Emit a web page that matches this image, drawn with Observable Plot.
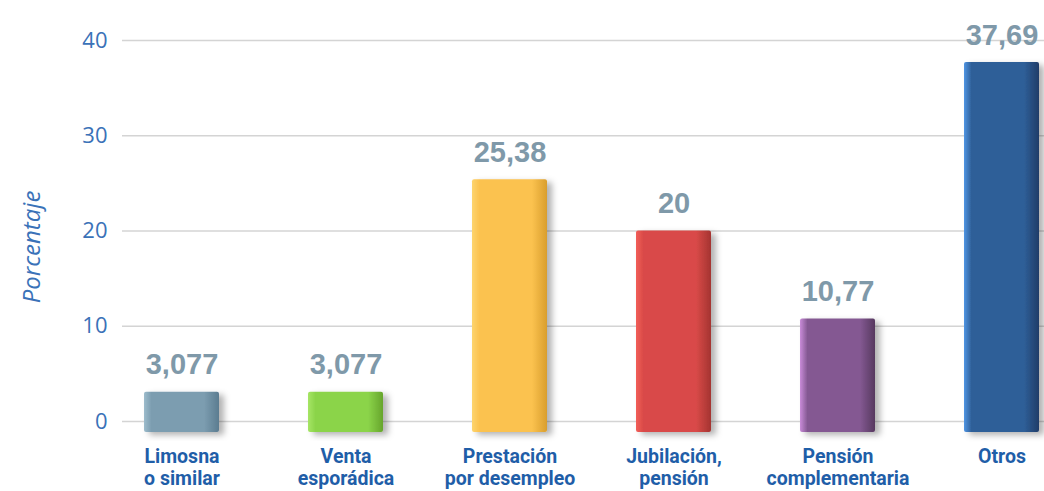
<!DOCTYPE html>
<html>
<head>
<meta charset="utf-8">
<script src="https://cdn.jsdelivr.net/npm/d3@7"></script>
<script src="https://cdn.jsdelivr.net/npm/@observablehq/plot@0.6"></script>
<style>
  html, body { margin: 0; padding: 0; background: #ffffff; }
  svg { display: block; }
</style>
</head>
<body>
<div id="chart"></div>
<script>
// ---- Data ----
const categories = [
  "Limosna\no similar",
  "Venta\nesporádica",
  "Prestación\npor desempleo",
  "Jubilación,\npensión",
  "Pensión\ncomplementaria",
  "Otros"
];
const values = [3.077, 3.077, 25.38, 20, 10.77, 37.69];
const valueLabels = ["3,077", "3,077", "25,38", "20", "10,77", "37,69"];
const yTicks = [0, 10, 20, 30, 40];
const yTitle = "Porcentaje";

// ---- Styles (light edge, body, dark edge) ----
const palette = [
  ["#9dbccc", "#7c9db0", "#5b7c90"],
  ["#a6e565", "#8bd44a", "#66a52c"],
  ["#fdd46e", "#fbc24f", "#d99e2e"],
  ["#f25e58", "#d94a48", "#a43431"],
  ["#c98bd8", "#845992", "#56385f"],
  ["#4f95e3", "#2f5f98", "#1f3d68"]
];

const data = categories.map((c, i) => ({
  category: c,
  value: values[i],
  label: valueLabels[i],
  grad: `url(#bar-grad-${i})`
}));

const svg = Plot.plot({
  width: 1044,
  height: 491,
  marginLeft: 122,
  marginRight: -18,
  marginTop: 40,
  marginBottom: 70,
  style: { fontFamily: "Roboto, sans-serif", background: "#ffffff", overflow: "visible" },
  x: { domain: categories, paddingInner: 0.54, paddingOuter: 0.128, label: null },
  y: { domain: [0, 40], ticks: yTicks, label: null },
  color: { type: "identity" },
  marks: [
    Plot.gridY(yTicks, { stroke: "#d4d4d4", strokeOpacity: 1, strokeWidth: 1.6 }),
    Plot.barY(data, {
      x: "category",
      y: "value",
      fill: "grad",
      insetBottom: -11,
      rx: 2,
      className: "bars3d"
    }),
    Plot.text(data, {
      x: "category",
      y: "value",
      text: "label",
      dy: -27,
      lineAnchor: "middle",
      fontFamily: "Liberation Sans, Arial, sans-serif",
      fontWeight: "bold",
      fontSize: 29,
      fill: "#7f99a9"
    }),
    Plot.axisY(yTicks, {
      tickSize: 0,
      tickPadding: 15,
      fontSize: 22,
      fontFamily: "Open Sans, sans-serif",
      color: "#3a72b8",
      label: null
    }),
    Plot.axisX({
      tickSize: 0,
      tickPadding: 26,
      fontSize: 19.5,
      fontWeight: "bold",
      lineHeight: 1.13,
      color: "#1f5ea8",
      label: null
    }),
    Plot.text([yTitle], {
      frameAnchor: "left",
      textAnchor: "middle",
      rotate: -90,
      dx: -90,
      dy: 16,
      lineAnchor: "middle",
      fontSize: 24,
      fontStyle: "italic",
      fontFamily: "Open Sans, sans-serif",
      fill: "#3a72b8"
    })
  ]
});

// Gradients and a soft shadow for the bars
const sel = d3.select(svg);
const defs = sel.insert("defs", ":first-child");
palette.forEach((p, i) => {
  const g = defs.append("linearGradient")
    .attr("id", `bar-grad-${i}`)
    .attr("x1", 0).attr("x2", 1).attr("y1", 0).attr("y2", 0);
  g.append("stop").attr("offset", 0).attr("stop-color", p[0]);
  g.append("stop").attr("offset", 0.1).attr("stop-color", p[1]);
  g.append("stop").attr("offset", 0.8).attr("stop-color", p[1]);
  g.append("stop").attr("offset", 1).attr("stop-color", p[2]);
});
const f = defs.append("filter").attr("id", "bar-shadow")
  .attr("x", "-20%").attr("y", "-10%").attr("width", "160%").attr("height", "130%");
f.append("feDropShadow").attr("dx", 5).attr("dy", 3).attr("stdDeviation", 3)
  .attr("flood-color", "#000").attr("flood-opacity", 0.3);
sel.selectAll(".bars3d rect").attr("filter", "url(#bar-shadow)");

document.getElementById("chart").appendChild(svg);
</script>
</body>
</html>
